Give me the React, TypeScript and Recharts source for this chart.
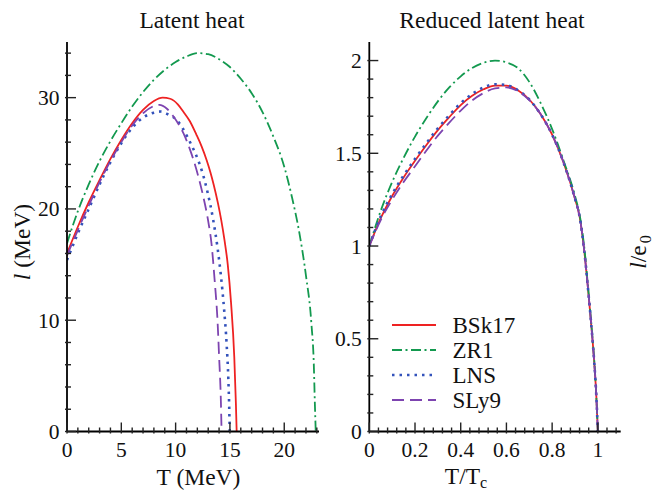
import React from 'react';
import { LineChart, Line, XAxis, YAxis } from 'recharts';

// ---- left panel: latent heat l (MeV) vs T (MeV) ----
const bsk17T = [0, 1, 2, 3, 4, 5, 6, 7, 8, 8.8, 9.5, 10.2, 10.7, 11.3, 11.9, 12.4, 12.85, 13.2, 13.5, 13.9, 14.2, 14.5, 14.8, 15.1, 15.4, 15.55, 15.62];
const bsk17L = [16.0, 18.4, 20.6, 22.6, 24.5, 26.2, 27.7, 28.9, 29.7, 30.0, 29.9, 29.4, 28.75, 27.9, 26.7, 25.6, 24.4, 23.3, 22.2, 20.5, 19.0, 17.2, 15.0, 11.6, 6.7, 2.5, 0];

const zr1T = [0, 0.5, 1, 2, 3, 4, 5, 6, 7, 8, 9, 10, 11, 12, 13, 14, 15, 16, 17, 18, 19, 20, 20.7, 21.4, 22.0, 22.5, 22.72, 22.82, 22.9];
const zr1L = [16.9, 18.4, 19.8, 22.2, 24.3, 26.1, 27.7, 29.2, 30.5, 31.6, 32.5, 33.2, 33.7, 34.0, 33.9, 33.45, 32.75, 31.7, 30.4, 28.7, 26.5, 23.8, 21.1, 17.8, 14.0, 9.7, 6.1, 2.5, 0];

const lnsT = [0, 1, 2, 3, 4, 5, 6, 7, 8, 8.6, 9.4, 10.1, 10.65, 11.1, 11.55, 11.9, 12.2, 12.5, 12.7, 12.95, 13.2, 13.46, 13.86, 14.17, 14.47, 14.7, 14.85, 14.93, 14.98];
const lnsL = [15.4, 17.8, 20.0, 22.2, 24.2, 25.9, 27.3, 28.2, 28.65, 28.75, 28.45, 28.0, 27.25, 26.45, 25.55, 24.8, 24.05, 23.15, 22.45, 21.45, 20.35, 19.0, 16.5, 14.0, 10.9, 7.8, 4.8, 2.3, 0];

const sly9T = [0, 1, 2, 3, 4, 5, 6, 7, 8, 8.5, 9.2, 9.8, 10.4, 10.86, 11.3, 11.68, 12.08, 12.5, 13.0, 13.3, 13.6, 13.86, 14.0, 14.17, 14.23];
const sly9L = [15.8, 18.1, 20.3, 22.4, 24.3, 26.0, 27.5, 28.6, 29.25, 29.35, 29.0, 28.3, 27.4, 26.5, 25.4, 24.3, 22.95, 21.3, 18.9, 16.9, 13.5, 9.9, 6.8, 2.6, 0];

// ---- right panel: reduced latent heat l/e0 vs T/Tc ----
const tRed = [0, 0.05, 0.1, 0.15, 0.2, 0.25, 0.3, 0.35, 0.4, 0.45, 0.5, 0.55, 0.6, 0.65, 0.7, 0.75, 0.8, 0.85, 0.9, 0.92, 0.94, 0.96, 0.975, 0.985, 0.993, 1.0];
const bsk17Red = [1.0, 1.15, 1.27, 1.37, 1.46, 1.545, 1.625, 1.695, 1.76, 1.81, 1.845, 1.865, 1.865, 1.84, 1.79, 1.71, 1.6, 1.45, 1.255, 1.16, 0.98, 0.73, 0.52, 0.36, 0.2, 0];
const zr1Red = [1.0, 1.19, 1.345, 1.475, 1.59, 1.69, 1.78, 1.855, 1.915, 1.96, 1.988, 2.0, 1.99, 1.96, 1.885, 1.77, 1.63, 1.46, 1.27, 1.17, 1.0, 0.74, 0.53, 0.37, 0.2, 0];
const lnsRed = [1.0, 1.16, 1.28, 1.38, 1.47, 1.555, 1.635, 1.705, 1.77, 1.82, 1.855, 1.872, 1.868, 1.84, 1.79, 1.71, 1.6, 1.45, 1.255, 1.16, 0.98, 0.73, 0.52, 0.36, 0.2, 0];
const sly9Red = [1.0, 1.14, 1.25, 1.345, 1.43, 1.515, 1.595, 1.665, 1.73, 1.785, 1.825, 1.85, 1.855, 1.835, 1.787, 1.71, 1.6, 1.45, 1.255, 1.16, 0.98, 0.73, 0.52, 0.36, 0.2, 0];

// ticks
const leftXMajor = [0, 5, 10, 15, 20];
const leftYMajor = [0, 10, 20, 30];
const rightXMajor = [0, 0.2, 0.4, 0.6, 0.8, 1];
const rightYMajor = [0, 0.5, 1, 1.5, 2];
const leftXTicks = Array.from({ length: 24 }, (_, i) => i);
const leftYTicks = Array.from({ length: 18 }, (_, i) => i * 2);
const rightXTicks = Array.from({ length: 28 }, (_, i) => Math.round(i * 4) / 100);
const rightYTicks = Array.from({ length: 21 }, (_, i) => i / 10);

const SERIES = [
  { name: 'BSk17', color: '#ee2222', dash: undefined, width: 1.8 },
  { name: 'ZR1', color: '#13994f', dash: '10 3.5 2 3.5', width: 1.8 },
  { name: 'LNS', color: '#3352bb', dash: '2.5 5', width: 2.6 },
  { name: 'SLy9', color: '#7d44b0', dash: '12 6', width: 1.8 },
];

const FONT = 'Liberation Serif, DejaVu Serif, serif';
const INK = '#111';

const pairs = (xs: number[], ys: number[]) => xs.map((x, i) => ({ T: x, l: ys[i] }));
const leftData = [pairs(bsk17T, bsk17L), pairs(zr1T, zr1L), pairs(lnsT, lnsL), pairs(sly9T, sly9L)];

const rightData = tRed.map((t, i) => ({
  t,
  BSk17: bsk17Red[i],
  ZR1: zr1Red[i],
  LNS: lnsRed[i],
  SLy9: sly9Red[i],
}));

const isMajor = (v: number, majors: number[]) => majors.some(m => Math.abs(m - v) < 1e-6);

function makeTick(side: 'bottom' | 'top' | 'left' | 'right', majors: number[], showLabel: boolean) {
  return (props: any) => {
    const { x, y, payload } = props;
    const v = payload.value;
    const major = isMajor(v, majors);
    const len = major ? 11 : 6;
    let line;
    if (side === 'bottom') line = <line x1={x} y1={y} x2={x} y2={y - len} />;
    else if (side === 'top') line = <line x1={x} y1={y} x2={x} y2={y + len} />;
    else if (side === 'left') line = <line x1={x} y1={y} x2={x + len} y2={y} />;
    else line = <line x1={x} y1={y} x2={x - len} y2={y} />;
    return (
      <g stroke="#222" strokeWidth={1.4}>
        {line}
        {showLabel && major && side === 'bottom' && (
          <text x={x} y={y + 23.5} textAnchor="middle" stroke="none" fill={INK} fontSize={21.5} style={{ fontFamily: FONT }}>{String(v)}</text>
        )}
        {showLabel && major && side === 'left' && (
          <text x={x - 5.5} y={y + 7.5} textAnchor="end" stroke="none" fill={INK} fontSize={21.5} style={{ fontFamily: FONT }}>{String(v)}</text>
        )}
      </g>
    );
  };
}

const axisLine = { stroke: '#000', strokeWidth: 1.8 };

function LeftPanel() {
  return (
    <LineChart width={330} height={491} margin={{ top: 42, right: 11, bottom: 0, left: 0 }}>
      <XAxis xAxisId="b" type="number" dataKey="T" domain={[0, 23.2]} ticks={leftXTicks} interval={0} height={59.5}
        tickSize={0} tickLine={false} axisLine={axisLine} allowDataOverflow tick={makeTick('bottom', leftXMajor, true)} />
      <XAxis xAxisId="t" orientation="top" type="number" domain={[0, 23.2]} ticks={leftXTicks} interval={0} height={0}
        tickSize={0} tickLine={false} axisLine={axisLine} allowDataOverflow tick={makeTick('top', leftXMajor, false)} />
      <YAxis yAxisId="l" type="number" domain={[0, 35]} ticks={leftYTicks} interval={0} width={67}
        tickSize={0} tickLine={false} axisLine={axisLine} allowDataOverflow tick={makeTick('left', leftYMajor, true)} />
      <YAxis yAxisId="r" orientation="right" type="number" domain={[0, 35]} ticks={leftYTicks} interval={0} width={0}
        tickSize={0} tickLine={false} axisLine={axisLine} allowDataOverflow tick={makeTick('right', leftYMajor, false)} />
      {SERIES.map((s, i) => (
        <Line key={s.name} xAxisId="b" yAxisId="l" data={leftData[i]} dataKey="l" type="monotone"
          stroke={s.color} strokeWidth={s.width} strokeDasharray={s.dash} dot={false} activeDot={false}
          isAnimationActive={false} />
      ))}
    </LineChart>
  );
}

function RightPanel() {
  return (
    <LineChart width={329} height={491} data={rightData} margin={{ top: 42, right: 38.3, bottom: 0, left: 0 }}>
      <XAxis xAxisId="b" type="number" dataKey="t" domain={[0, 1.1]} ticks={rightXTicks} interval={0} height={59.5}
        tickSize={0} tickLine={false} axisLine={axisLine} allowDataOverflow tick={makeTick('bottom', rightXMajor, true)} />
      <XAxis xAxisId="t" orientation="top" type="number" domain={[0, 1.1]} ticks={rightXTicks} interval={0} height={0}
        tickSize={0} tickLine={false} axisLine={axisLine} allowDataOverflow tick={makeTick('top', rightXMajor, false)} />
      <YAxis yAxisId="l" type="number" domain={[0, 2.1]} ticks={rightYTicks} interval={0} width={39.3}
        tickSize={0} tickLine={false} axisLine={axisLine} allowDataOverflow tick={makeTick('left', rightYMajor, true)} />
      <YAxis yAxisId="r" orientation="right" type="number" domain={[0, 2.1]} ticks={rightYTicks} interval={0} width={0}
        tickSize={0} tickLine={false} axisLine={axisLine} allowDataOverflow tick={makeTick('right', rightYMajor, false)} />
      {SERIES.map(s => (
        <Line key={s.name} xAxisId="b" yAxisId="l" dataKey={s.name} type="monotone"
          stroke={s.color} strokeWidth={s.width} strokeDasharray={s.dash} dot={false} activeDot={false}
          isAnimationActive={false} />
      ))}
    </LineChart>
  );
}

function Labels() {
  const txt = { fill: INK, fontSize: 23.5, style: { fontFamily: FONT } };
  return (
    <svg width={659} height={491} style={{ position: 'absolute', left: 0, top: 0, pointerEvents: 'none' }}>
      <text x={192} y={28} textAnchor="middle" {...txt}>Latent heat</text>
      <text x={492} y={28} textAnchor="middle" {...txt}>Reduced latent heat</text>
      <text x={198.5} y={485} textAnchor="middle" {...txt}>T (MeV)</text>
      <text x={466} y={484} textAnchor="middle" {...txt}>T/T<tspan dy={4} fontSize={16}>c</tspan></text>
      <text transform="translate(30,242) rotate(-90)" textAnchor="middle" {...txt}>
        <tspan fontStyle="italic">l</tspan> (MeV)
      </text>
      <text transform="translate(646,252) rotate(-90)" textAnchor="middle" {...txt}>
        <tspan fontStyle="italic">l</tspan>/e<tspan dy={5} dx={2} fontSize={16}>0</tspan>
      </text>
      {SERIES.map((s, i) => {
        const y = 325 + i * 25;
        return (
          <g key={s.name}>
            <line x1={392} y1={y} x2={436} y2={y} stroke={s.color} strokeWidth={s.width} strokeDasharray={s.dash} />
            <text x={452.5} y={y + 8} {...txt} fontSize={23}>{s.name}</text>
          </g>
        );
      })}
    </svg>
  );
}

export default function App() {
  return (
    <div style={{ position: 'absolute', left: 0, top: 0, width: 659, height: 491, background: '#fff' }}>
      <div style={{ position: 'absolute', left: 0, top: 0 }}>
        <LeftPanel />
      </div>
      <div style={{ position: 'absolute', left: 330, top: 0 }}>
        <RightPanel />
      </div>
      <Labels />
    </div>
  );
}
